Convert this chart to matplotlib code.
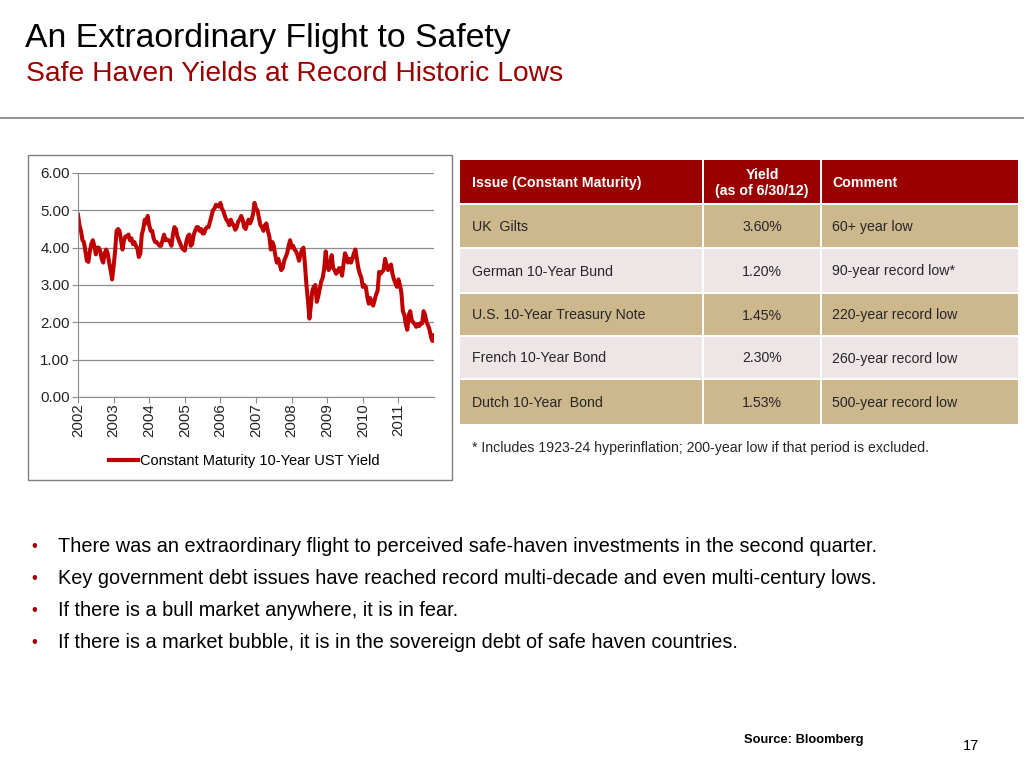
import numpy as np
import matplotlib
matplotlib.use("Agg")
import matplotlib.pyplot as plt
from matplotlib.patches import Rectangle

plt.rcParams['font.family'] = ['Liberation Sans', 'DejaVu Sans']

# ---------------- data ----------------
# 10-year UST yield, semi-monthly samples starting 30 Jun 2002
y2002 = [4.88, 4.6, 4.45, 4.2, 4.15, 3.9, 3.65, 3.62, 3.9, 4.1, 4.2, 4.05, 3.82]
y2003 = [4.0, 4.0, 3.9, 3.7, 3.6, 3.85, 3.95, 3.85, 3.6, 3.4, 3.15, 3.5,
         3.9, 4.45, 4.5, 4.45, 4.2, 3.95, 4.2, 4.3, 4.3, 4.35, 4.2, 4.25]
y2004 = [4.1, 4.15, 4.05, 3.98, 3.75, 3.85, 4.35, 4.5, 4.75, 4.65, 4.85, 4.6,
         4.45, 4.45, 4.25, 4.15, 4.15, 4.1, 4.05, 4.05, 4.2, 4.35, 4.2, 4.22]
y2005 = [4.2, 4.15, 4.05, 4.35, 4.55, 4.5, 4.3, 4.2, 4.1, 4.0, 3.95, 3.92,
         4.15, 4.3, 4.35, 4.05, 4.1, 4.35, 4.45, 4.55, 4.55, 4.45, 4.5, 4.38]
y2006 = [4.38, 4.5, 4.55, 4.55, 4.7, 4.85, 5.0, 5.05, 5.15, 5.12, 5.1, 5.2,
         5.05, 4.98, 4.85, 4.75, 4.7, 4.6, 4.75, 4.65, 4.6, 4.48, 4.55, 4.7]
y2007 = [4.75, 4.85, 4.75, 4.55, 4.5, 4.65, 4.75, 4.65, 4.75, 4.9, 5.2, 5.05,
         5.0, 4.8, 4.6, 4.55, 4.45, 4.6, 4.65, 4.45, 4.3, 3.95, 4.15, 4.05]
y2008 = [3.8, 3.6, 3.7, 3.55, 3.4, 3.45, 3.65, 3.75, 3.85, 4.05, 4.2, 4.0,
         4.05, 3.95, 3.9, 3.8, 3.65, 3.8, 3.95, 4.0, 3.55, 3.0, 2.6, 2.1]
y2009 = [2.45, 2.85, 2.95, 3.0, 2.55, 2.7, 2.9, 3.1, 3.2, 3.45, 3.9, 3.55,
         3.4, 3.55, 3.8, 3.45, 3.4, 3.3, 3.35, 3.45, 3.45, 3.25, 3.55, 3.85]
y2010 = [3.75, 3.6, 3.7, 3.6, 3.7, 3.85, 3.95, 3.7, 3.45, 3.3, 3.2, 2.95,
         3.0, 2.95, 2.7, 2.5, 2.65, 2.5, 2.45, 2.6, 2.75, 2.85, 3.35, 3.3]
y2011 = [3.35, 3.4, 3.7, 3.55, 3.4, 3.45, 3.55, 3.3, 3.15, 3.05, 2.95, 3.15,
         3.0, 2.8, 2.3, 2.2, 1.95, 1.8, 2.2, 2.3, 2.05, 2.0, 1.95, 1.88]
y2012 = [1.95, 1.9, 1.98, 1.97, 2.3, 2.2, 2.0, 1.92, 1.8, 1.6, 1.5, 1.65]

years = [2002, 2003, 2004, 2005, 2006, 2007, 2008, 2009, 2010, 2011]
y_ticks = [0, 1, 2, 3, 4, 5, 6]
series_label = "Constant Maturity 10-Year UST Yield"

table_header = ["Issue (Constant Maturity)", "Yield\n(as of 6/30/12)", "Comment"]
issues = ["UK  Gilts", "German 10-Year Bund", "U.S. 10-Year Treasury Note",
          "French 10-Year Bond", "Dutch 10-Year  Bond"]
yields = ["3.60%", "1.20%", "1.45%", "2.30%", "1.53%"]
comments = ["60+ year low", "90-year record low*", "220-year record low",
            "260-year record low", "500-year record low"]
footnote = "* Includes 1923-24 hyperinflation; 200-year low if that period is excluded."

bullets = [
    "There was an extraordinary flight to perceived safe-haven investments in the second quarter.",
    "Key government debt issues have reached record multi-decade and even multi-century lows.",
    "If there is a bull market anywhere, it is in fear.",
    "If there is a market bubble, it is in the sovereign debt of safe haven countries.",
]

# ---------------- figure ----------------
W, H = 1024, 768
fig = plt.figure(figsize=(W / 100, H / 100), dpi=100)
fig.patch.set_facecolor('white')

# overlay axes in pixel coordinates
ov = fig.add_axes([0, 0, 1, 1])
ov.set_xlim(0, W)
ov.set_ylim(H, 0)
ov.axis('off')

RED = '#9B0000'
ov.text(25, 38, "An Extraordinary Flight to Safety", fontsize=24.3, color='black',
        va='center', ha='left')
ov.text(26, 74, "Safe Haven Yields at Record Historic Lows", fontsize=20.3, color=RED,
        va='center', ha='left')
ov.plot([0, W], [118, 118], color='#7f7f7f', lw=1.2)

# chart frame
ov.add_patch(Rectangle((28, 155), 424, 325, fill=False, edgecolor='#7f7f7f', lw=1))

# ---------------- line chart ----------------
vals = np.array(y2002 + y2003 + y2004 + y2005 + y2006 + y2007 + y2008 +
                y2009 + y2010 + y2011 + y2012)
t = np.arange(len(vals)) / 24.0

px0, px1, py0, py1 = 78, 434, 173, 397
ax = fig.add_axes([px0 / W, 1 - py1 / H, (px1 - px0) / W, (py1 - py0) / H])
ax.plot(t, vals, color='#C00000', lw=2.9, label=series_label, solid_joinstyle='round')
ax.set_xlim(0, len(years))
ax.set_ylim(0, 6)
ax.set_yticks(y_ticks)
ax.set_yticklabels([f"{v:.2f}" for v in y_ticks], fontsize=10.8, color='#222222')
ax.set_xticks(range(len(years)))
ax.set_xticklabels([str(y) for y in years], rotation=90, fontsize=10.8, color='#222222')
ax.grid(axis='y', color='#8c8c8c', lw=0.9)
ax.set_axisbelow(True)
for s in ['top', 'right']:
    ax.spines[s].set_visible(False)
for s in ['left', 'bottom']:
    ax.spines[s].set_color('#8c8c8c')
ax.tick_params(axis='both', length=4, color='#8c8c8c', pad=2)
ax.tick_params(axis='x', pad=0.5)
leg = ax.legend(loc='center left', bbox_to_anchor=(109 / W, 1 - 461 / H),
                bbox_transform=fig.transFigure, frameon=False, fontsize=10.5,
                handlelength=2.0, handletextpad=0.1, borderpad=0, borderaxespad=0)
for ln in leg.get_lines():
    ln.set_linewidth(3)

# ---------------- table ----------------
col_x = [460, 703, 821, 1018]
row_y = [160, 204, 248, 293, 336, 379, 425]
gap = 2
TAN = '#CDB78D'
LIGHT = '#EEE6E6'
for c in range(3):
    x0 = col_x[c] + (gap / 2 if c > 0 else 0)
    x1 = col_x[c + 1] - (gap / 2 if c < 2 else 0)
    ov.add_patch(Rectangle((x0, row_y[0]), x1 - x0, row_y[1] - row_y[0] - gap / 2,
                           facecolor=RED, edgecolor='none'))
    for r in range(5):
        y0 = row_y[r + 1] + gap / 2
        y1 = row_y[r + 2] - gap / 2
        ov.add_patch(Rectangle((x0, y0), x1 - x0, y1 - y0,
                               facecolor=TAN if r % 2 == 0 else LIGHT, edgecolor='none'))

hy = (row_y[0] + row_y[1]) / 2
ov.text(472, hy + 1, table_header[0], color='white', fontsize=10.2, fontweight='bold',
        va='center', ha='left')
ov.text(762, hy + 1, table_header[1], color='white', fontsize=10.2, fontweight='bold',
        va='center', ha='center', linespacing=1.1)
ov.text(832, hy + 1, table_header[2], color='white', fontsize=10.2, fontweight='bold',
        va='center', ha='left')
for r in range(5):
    yc = (row_y[r + 1] + row_y[r + 2]) / 2 + 1
    ov.text(472, yc, issues[r], color='#262626', fontsize=10.2, va='center', ha='left')
    ov.text(762, yc, yields[r], color='#262626', fontsize=10.2, va='center', ha='center')
    ov.text(832, yc, comments[r], color='#262626', fontsize=10.2, va='center', ha='left')

ov.text(472, 448, footnote, color='#262626', fontsize=10.2, va='center', ha='left')

# ---------------- bullets ----------------
by = [547, 578, 610, 642]
for yb, txt in zip(by, bullets):
    ov.text(31, yb, "\u2022", color=RED, fontsize=12, va='center', ha='left')
    ov.text(58, yb, txt, color='black', fontsize=14.3, va='center', ha='left')

ov.text(744, 740, "Source: Bloomberg", color='black', fontsize=9.3, fontweight='bold',
        va='center', ha='left')
ov.text(979, 746, "17", color='black', fontsize=10.5, va='center', ha='right')

fig.savefig("out.png", dpi=100, facecolor='white')
